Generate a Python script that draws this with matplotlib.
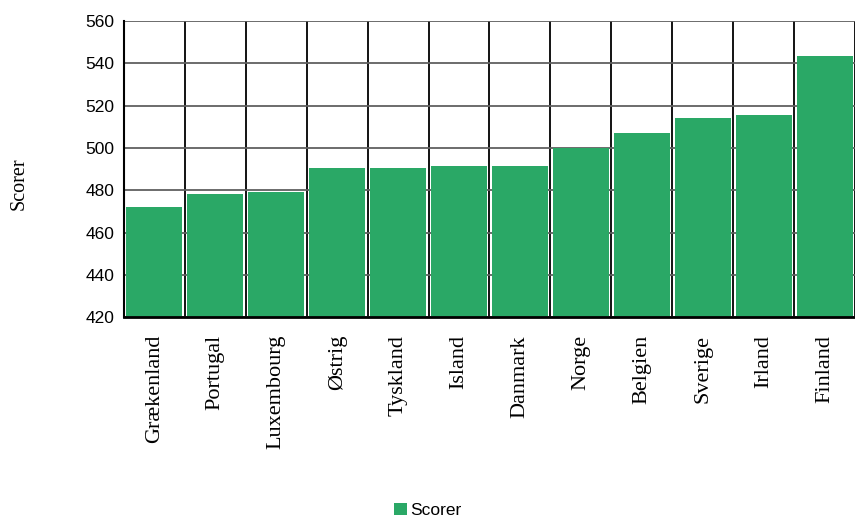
import numpy as np
import matplotlib.pyplot as plt
from matplotlib.ticker import FixedLocator

lande = ['Grækenland', 'Portugal', 'Luxembourg', 'Østrig', 'Tyskland', 'Island',
         'Danmark', 'Norge', 'Belgien', 'Sverige', 'Irland', 'Finland']
scorer = [472, 478, 479, 490.5, 490.5, 491.3, 491.3, 500, 507, 514, 515.5, 543.4]
yticks = [420, 440, 460, 480, 500, 520, 540, 560]

fig = plt.figure(figsize=(8.55, 5.18), dpi=100)
ax = fig.add_axes([0.145, 0.388, 0.855, 0.571])

x = np.arange(len(lande))
ax.bar(x, scorer, width=0.92, color='#2aa866', label='Scorer', zorder=3)

ax.set_xlim(-0.5, len(lande) - 0.5)
ax.set_ylim(420, 560)
ax.set_yticks(yticks)
ax.set_xticks(x)
ax.set_xticklabels(lande, rotation=90, family='Liberation Serif', fontsize=16)
ax.xaxis.set_minor_locator(FixedLocator(np.arange(-0.5, len(lande), 1.0)))
ax.tick_params(axis='x', which='both', length=0, pad=13)
ax.tick_params(axis='y', length=0, labelsize=12.5, pad=7)
for lab in ax.get_yticklabels():
    lab.set_family('Liberation Sans')

ax.grid(axis='y', which='major', color='#606060', linewidth=1.3, zorder=1)
ax.grid(axis='x', which='minor', color='black', linewidth=1.3, zorder=1)

for s in ['top', 'right']:
    ax.spines[s].set_visible(False)
ax.spines['left'].set_linewidth(1.5)
ax.spines['bottom'].set_linewidth(2)
ax.spines['bottom'].set_zorder(4)

ax.set_ylabel('Scorer', family='Liberation Serif', fontsize=14.5)
ax.yaxis.set_label_coords(-0.13, 0.45)

leg = fig.legend(loc='lower center', bbox_to_anchor=(0.5, -0.03), frameon=False,
                 handlelength=0.75, handleheight=0.75, handletextpad=0.2,
                 prop={'family': 'Liberation Sans', 'size': 12.5})

fig.savefig('out.png', dpi=100)
